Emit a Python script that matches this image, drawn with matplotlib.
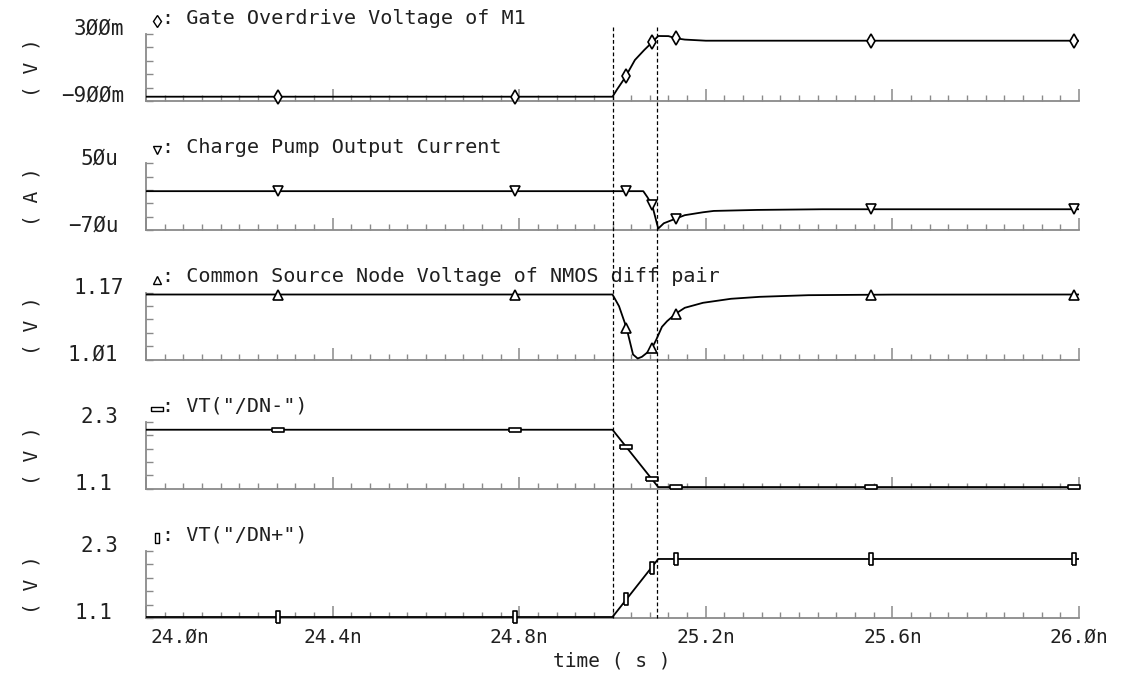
import matplotlib
matplotlib.use("Agg")
import matplotlib.pyplot as plt
from matplotlib.ticker import MultipleLocator
from matplotlib.lines import Line2D
import matplotlib.transforms as mtrans

# ---------------- data (time in ns) ----------------
marker_t = [24.284, 24.79, 25.03, 25.085, 25.136, 25.554, 25.99]

# Panel 1: Gate overdrive voltage of M1 (V)
t1 = [24.0, 25.0, 25.01, 25.027, 25.048, 25.068, 25.084, 25.098, 25.12, 25.136, 25.155, 25.2, 26.0]
v1 = [-0.823, -0.823, -0.69, -0.48, -0.166, 0.013, 0.144, 0.264, 0.262, 0.223, 0.20, 0.18, 0.18]
m1 = [-0.823, -0.823, -0.45, 0.15, 0.223, 0.18, 0.18]

# Panel 2: Charge pump output current (uA)
t2 = [24.0, 25.066, 25.075, 25.085, 25.098, 25.11, 25.136, 25.155, 25.194, 25.217, 25.31, 25.45, 26.0]
v2 = [0.0, 0.0, -11.0, -25.0, -67.0, -57.5, -49.0, -43.0, -37.8, -35.4, -33.6, -32.4, -32.4]
m2 = [0.0, 0.0, 0.0, -24.0, -49.0, -32.4, -32.4]

# Panel 3: Common source node voltage of NMOS diff pair (V)
t3 = [24.0, 25.0, 25.014, 25.03, 25.044, 25.054, 25.063, 25.075, 25.085, 25.094, 25.106,
      25.117, 25.136, 25.155, 25.194, 25.254, 25.316, 25.42, 25.6, 26.0]
v3 = [1.1652, 1.1652, 1.1373, 1.0857, 1.022, 1.0124, 1.0164, 1.027, 1.038, 1.0578, 1.088,
      1.1015, 1.1198, 1.1335, 1.1454, 1.155, 1.1597, 1.1636, 1.165, 1.1652]
m3 = [1.1652, 1.1652, 1.0857, 1.038, 1.1198, 1.165, 1.1652]

# Panel 4: VT("/DN-") (V)
t4 = [24.0, 25.0, 25.098, 26.0]
v4 = [2.157, 2.157, 1.13, 1.13]
m4 = [2.157, 2.157, 1.843, 1.277, 1.13, 1.13, 1.13]

# Panel 5: VT("/DN+") (V)
t5 = [24.0, 25.0, 25.098, 26.0]
v5 = [1.118, 1.118, 2.157, 2.157]
m5 = [1.118, 1.118, 1.436, 1.99, 2.157, 2.157, 2.157]

titles = ["Gate Overdrive Voltage of M1",
          "Charge Pump Output Current",
          "Common Source Node Voltage of NMOS diff pair",
          'VT("/DN-")',
          'VT("/DN+")']
units = ["( V )", "( A )", "( V )", "( V )", "( V )"]
ylims = [(-0.9, 0.3), (-70.0, 50.0), (1.01, 1.17), (1.1, 2.3), (1.1, 2.3)]
ytop_labels = ["3\u00d8\u00d8m", "5\u00d8u", "1.17", "2.3", "2.3"]
ybot_labels = ["\u22129\u00d8\u00d8m", "\u22127\u00d8u", "1.\u00d81", "1.1", "1.1"]
xtick_vals = [24.0, 24.4, 24.8, 25.2, 25.6, 26.0]
xtick_labels = ["24.\u00d8n", "24.4n", "24.8n", "25.2n", "25.6n", "26.\u00d8n"]
cursor_t = [25.0, 25.095]
xlabel = "time ( s )"

series_t = [t1, t2, t3, t4, t5]
series_v = [v1, v2, v3, v4, v5]
series_m = [m1, m2, m3, m4, m5]

# ---------------- layout ----------------
W, H = 1121, 673
fig = plt.figure(figsize=(W / 100, H / 100), dpi=100)
fig.patch.set_facecolor("white")
FONT = ["DejaVu Sans Mono", "DejaVu Sans"]
plt.rcParams["font.family"] = FONT
FS_TITLE = 14.5
FS_YT = 15
FS_XT = 14
FS_LAB = 14
TXT = "#202020"
GRID = "#8a8a8a"

x0, x1 = 146, 1079
tops = [34, 163.25, 292.5, 421.75, 551]
ph = 67

def fx(px):
    return px / W

def fy(py):
    return 1 - py / H

rect_h = [(-1, -0.32), (1, -0.32), (1, 0.32), (-1, 0.32), (-1, -0.32)]
rect_v = [(-0.4, -1), (0.4, -1), (0.4, 1), (-0.4, 1), (-0.4, -1)]
markers = ["d", "v", "^", rect_h, rect_v]
msizes = [7, 7, 7, 9, 8]
title_msizes = [6, 6, 6, 8, 7]

axes = []
for i in range(5):
    top = tops[i]
    ax = fig.add_axes([fx(x0), fy(top + ph), fx(x1 - x0), ph / H])
    axes.append(ax)
    lo, hi = ylims[i]
    ax.set_xlim(24.0, 26.0)
    ax.set_ylim(lo, hi)
    ax.plot(series_t[i], series_v[i], color="black", lw=1.3, solid_joinstyle="round", zorder=3)
    ax.plot(marker_t, series_m[i], linestyle="none", marker=markers[i], ms=msizes[i],
            mfc="white", mec="black", mew=1.2, zorder=4, clip_on=False)
    for s in ["top", "right"]:
        ax.spines[s].set_visible(False)
    for s in ["left", "bottom"]:
        ax.spines[s].set_color(GRID)
        ax.spines[s].set_linewidth(1.3)
    ax.set_xticks(xtick_vals)
    ax.xaxis.set_minor_locator(MultipleLocator(0.04))
    step = (hi - lo) / 5
    ax.set_yticks([lo + k * step for k in range(6)])
    ax.set_yticklabels([])
    ax.tick_params(axis="x", which="major", direction="in", length=9, width=1.1, color=GRID)
    ax.tick_params(axis="x", which="minor", direction="in", length=4.5, width=1.0, color=GRID)
    ax.tick_params(axis="y", which="major", direction="in", length=5, width=1.0, color=GRID)
    if i < 4:
        ax.set_xticklabels([])
    else:
        ax.set_xticklabels(xtick_labels, fontsize=FS_XT, color=TXT, family=FONT)
        ax.tick_params(axis="x", which="major", pad=7)
        first = ax.get_xticklabels()[0]
        first.set_horizontalalignment("left")
        first.set_x(24.0)
        first.set_transform(first.get_transform() +
                            mtrans.ScaledTranslation(4 / 100, 0, fig.dpi_scale_trans))
    ax.patch.set_alpha(0)

    # y range labels
    fig.text(fx(99), fy(top - 5), ytop_labels[i], ha="center", va="center",
             fontsize=FS_YT, color=TXT, family=FONT)
    fig.text(fx(93), fy(top + ph - 5), ybot_labels[i], ha="center", va="center",
             fontsize=FS_YT, color=TXT, family=FONT)
    # unit label
    fig.text(fx(32), fy(top + ph / 2), units[i], rotation=90, ha="center", va="center",
             fontsize=FS_LAB, color=TXT, family=FONT)
    # title with marker symbol
    fig.add_artist(Line2D([fx(157)], [fy(top - 13)], transform=fig.transFigure,
                          linestyle="none", marker=markers[i], ms=title_msizes[i],
                          mfc="white", mec="black", mew=1.0))
    fig.text(fx(162), fy(top - 16), ": " + titles[i], ha="left", va="center",
             fontsize=FS_TITLE, color=TXT, family=FONT)

# cursor (dashed vertical) lines spanning all panels
blend = mtrans.blended_transform_factory(axes[4].transData, fig.transFigure)
for tc in cursor_t:
    fig.add_artist(Line2D([tc, tc], [fy(27), fy(tops[4] + ph)], transform=blend,
                          color="black", lw=0.9, linestyle=(0, (3, 2)), zorder=5))

fig.text(fx(612), fy(661), xlabel, ha="center", va="center", fontsize=FS_LAB, color=TXT, family=FONT)

fig.savefig("out.png", dpi=100)
